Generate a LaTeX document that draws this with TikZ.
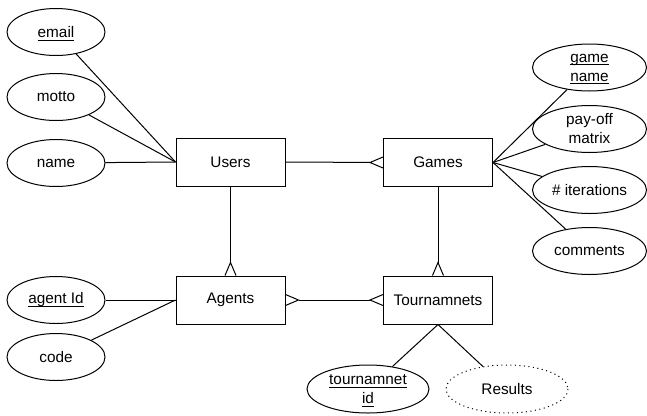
\documentclass[tikz,border=0pt]{standalone}
\usepackage{fontspec}
\setmainfont{Liberation Sans}
\usetikzlibrary{shapes.geometric,calc}
\newsavebox\myulbox
\newcommand\ulx[1]{\sbox\myulbox{#1}\smash{\rlap{\rule[-2.4pt]{\wd\myulbox}{0.6pt}}}\usebox\myulbox}
\tikzset{
  ent/.style={draw, line width=0.75pt, rectangle, minimum width=81.75pt, minimum height=36pt, inner sep=0pt},
  attr/.style={draw, line width=0.75pt, ellipse, minimum width=73.5pt, minimum height=35.25pt, inner sep=0pt, align=center},
  rattr/.style={attr, minimum width=85.5pt},
  battr/.style={attr, minimum width=91.5pt, minimum height=36pt},
  link/.style={line width=0.75pt},
  prong/.style={line width=0.75pt},
}
\begin{document}
\begin{tikzpicture}[x=0.75pt,y=-0.75pt,font=\fontsize{11.5}{14.25}\selectfont]
\useasboundingbox (0,0) rectangle (647,415);
% entities
\node[ent] (users) at (230.5,162) {Users};
\node[ent] (games) at (438,162.5) {Games};
\node[ent] (agents) at (230.5,300) {Agents};
\node[ent] (tourn) at (438,300) {Tournamnets};
% attributes
\node[attr] (email) at (56,32) {\ulx{email}};
\node[attr] (motto) at (56,97) {motto};
\node[attr] (name) at (56,163) {name};
\node[attr] (agentid) at (56,300) {\ulx{agent Id}};
\node[attr] (code) at (56,357) {code};
\node[rattr] (gname) at (589.5,67.5) {\ulx{game}\\\ulx{name}};
\node[rattr] (payoff) at (589.5,129) {pay-off\\matrix};
\node[rattr] (iter) at (589.5,190) {\# iterations};
\node[rattr] (comments) at (589.5,251) {comments};
\node[battr] (tid) at (368,389) {\ulx{tournamnet}\\\ulx{id}};
\node[battr, draw=none] (results) at (507,389) {Results};
\draw[line width=0.75pt, dash pattern=on 0.8pt off 2.6pt] (results.center) ellipse [x radius=61, y radius=24];
% attribute links
\draw[link] (email) -- (users.west);
\draw[link] (motto) -- (users.west);
\draw[link] (name) -- (users.west);
\draw[link] (agentid) -- (agents.west);
\draw[link] (code) -- (agents.west);
\draw[link] (gname) -- (games.east);
\draw[link] (payoff) -- (games.east);
\draw[link] (iter) -- (games.east);
\draw[link] (comments) -- (games.east);
\draw[link] (tid) -- (tourn.south);
\draw[link] (results) -- (tourn.south);
% relationships
\draw[link, shorten >=9.75pt] (users.east) -- (games.west);
\draw[prong] ($(games.west)+(0,-5.5)$) -- ($(games.west)+(-13,0)$) -- ($(games.west)+(0,5.5)$);
\draw[link, shorten >=9.75pt] (users.south) -- (agents.north);
\draw[prong] ($(agents.north)+(-5.5,0)$) -- ($(agents.north)+(0,-13)$) -- ($(agents.north)+(5.5,0)$);
\draw[link, shorten >=9.75pt] (games.south) -- (tourn.north);
\draw[prong] ($(tourn.north)+(-5.5,0)$) -- ($(tourn.north)+(0,-13)$) -- ($(tourn.north)+(5.5,0)$);
\draw[link, shorten >=9.75pt, shorten <=9.75pt] (agents.east) -- (tourn.west);
\draw[prong] ($(tourn.west)+(0,-5.5)$) -- ($(tourn.west)+(-13,0)$) -- ($(tourn.west)+(0,5.5)$);
\draw[prong] ($(agents.east)+(0,-5.5)$) -- ($(agents.east)+(13,0)$) -- ($(agents.east)+(0,5.5)$);
\end{tikzpicture}
\end{document}
